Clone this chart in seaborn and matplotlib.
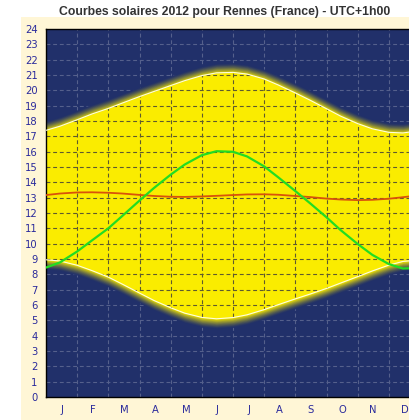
import matplotlib
matplotlib.use("Agg")
import matplotlib.pyplot as plt
import numpy as np
import pandas as pd
import seaborn as sns

# ---- data ----
months = ["J", "F", "M", "A", "M", "J", "J", "A", "S", "O", "N", "D"]
# position in months (1st and mid of each month)
x_pos = [0, 0.45, 1, 1.48, 2, 2.45, 3, 3.47, 4, 4.45, 5, 5.47, 6, 6.45,
         7, 7.45, 8, 8.47, 9, 9.45, 10, 10.47, 11, 11.45, 12]
sunrise = [8.95, 8.87, 8.59, 8.24, 7.82, 7.36, 6.78, 6.29, 5.82, 5.47, 5.19, 5.10,
           5.18, 5.36, 5.70, 6.02, 6.40, 6.71, 7.08, 7.43, 7.85, 8.22, 8.60, 8.84, 8.95]
sunset = [17.39, 17.66, 18.08, 18.46, 18.82, 19.17, 19.59, 19.93, 20.31, 20.63, 20.96, 21.14,
          21.17, 21.06, 20.74, 20.35, 19.83, 19.36, 18.80, 18.32, 17.83, 17.49, 17.26, 17.22, 17.37]
day_length = [8.44, 8.78, 9.49, 10.22, 11.00, 11.81, 12.81, 13.64, 14.50, 15.16, 15.77, 16.03,
              15.99, 15.69, 15.04, 14.33, 13.43, 12.64, 11.72, 10.89, 9.98, 9.27, 8.67, 8.38, 8.42]
solar_noon = [13.17, 13.27, 13.34, 13.35, 13.32, 13.27, 13.18, 13.11, 13.06, 13.05, 13.08, 13.12,
              13.17, 13.21, 13.22, 13.19, 13.11, 13.04, 12.94, 12.88, 12.84, 12.86, 12.93, 13.03, 13.16]
hours = list(range(0, 25))
title = "Courbes solaires 2012 pour Rennes (France) - UTC+1h00"

df = pd.DataFrame({"x": x_pos, "lever": sunrise, "coucher": sunset,
                   "duree": day_length, "midi": solar_noon})

# ---- style ----
sns.set_theme(style="white")
plt.rcParams["font.family"] = ["DejaVu Sans"]

NAVY = "#21306A"
YELLOW = "#FAEC00"
CREAM = "#FFF6D6"
LABEL = "#2A2A9C"

W, H = 409, 420
fig = plt.figure(figsize=(W / 100, H / 100), dpi=100)
fig.patch.set_facecolor("white")

bg = fig.add_axes([21 / W, 0, 1 - 21 / W, 1 - 17 / H], zorder=0)
bg.set_facecolor(CREAM)
bg.set_xticks([])
bg.set_yticks([])
for s in bg.spines.values():
    s.set_visible(False)

ax = fig.add_axes([46 / W, 23 / H, 374 / W, 368 / H], zorder=1)
ax.set_facecolor(NAVY)
ax.set_xlim(0, 12)
ax.set_ylim(0, 24)

dash = (0, (3.5, 2.5))

# light grid on night background
for h in hours[1:-1]:
    ax.axhline(h, color="#55608C", lw=0.8, ls=dash, zorder=0.9)
for m in range(1, 12):
    ax.axvline(m, color="#55608C", lw=0.8, ls=dash, zorder=0.9)

# glow + daylight region
xs = np.array(x_pos)
sr = np.array(sunrise)
ss = np.array(sunset)
navy_rgb = np.array(matplotlib.colors.to_rgb(NAVY))
yel_rgb = np.array(matplotlib.colors.to_rgb(YELLOW))
n = 14
glow = 0.65
for k in range(n, 0, -1):
    t = k / n
    d = glow * t
    w = (1 - t) ** 1.4
    c = yel_rgb * w + navy_rgb * (1 - w)
    ax.fill_between(xs, sr - d, ss + d, color=c, alpha=0.85, lw=0, zorder=1)
day = ax.fill_between(xs, sr, ss, color=YELLOW, lw=0, zorder=1.5)
clip = day.get_paths()[0]

# dark grid on daylight region
for h in hours[1:-1]:
    ln = ax.axhline(h, color="#5E5A2E", lw=0.8, ls=dash, zorder=2)
    ln.set_clip_path(clip, ax.transData)
for m in range(1, 12):
    ln = ax.axvline(m, color="#5E5A2E", lw=0.8, ls=dash, zorder=2)
    ln.set_clip_path(clip, ax.transData)

# curves
sns.lineplot(data=df, x="x", y="lever", ax=ax, color="#FFFFE0", lw=0.8, zorder=3)
sns.lineplot(data=df, x="x", y="coucher", ax=ax, color="#FFFFE0", lw=0.8, zorder=3)
sns.lineplot(data=df, x="x", y="midi", ax=ax, color="#D9520A", lw=1.3, zorder=4)
sns.lineplot(data=df, x="x", y="duree", ax=ax, color="#22DD22", lw=1.6, zorder=5)

ax.set_xlabel("")
ax.set_ylabel("")
ax.set_yticks(hours)
ax.set_yticklabels([str(h) for h in hours], color=LABEL, fontsize=7.2)
ax.set_xticks([m + 0.5 for m in range(12)])
ax.set_xticklabels(months, color=LABEL, fontsize=7.2)
ax.tick_params(axis="both", length=0, pad=6)
for s in ax.spines.values():
    s.set_visible(True)
    s.set_color("black")
    s.set_linewidth(1.0)

fig.text(225 / W, 1 - 12 / H, title, ha="center", va="center",
         fontsize=8.8, fontweight="bold", color="#333333",
         family=["Liberation Sans", "DejaVu Sans"])

fig.savefig("out.png", dpi=100, facecolor=fig.get_facecolor())
